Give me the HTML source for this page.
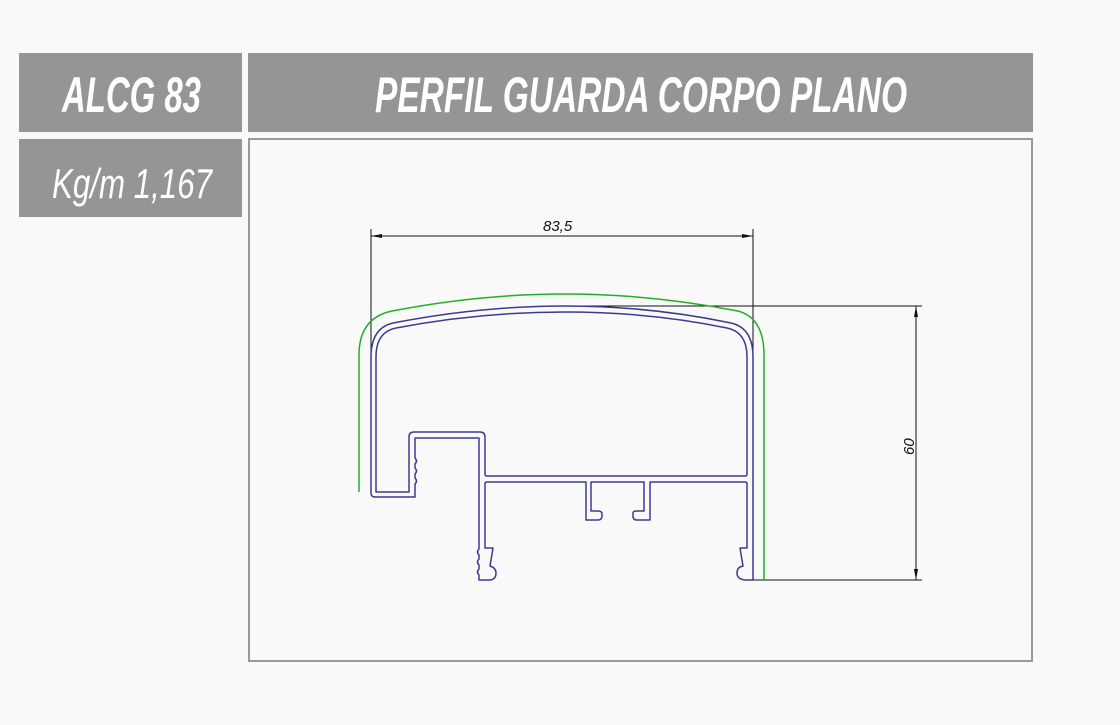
<!DOCTYPE html>
<html><head><meta charset="utf-8"><style>
html,body{margin:0;padding:0;background:#f9f9f9;width:1120px;height:725px;overflow:hidden}
svg{display:block}
</style></head><body>
<svg width="1120" height="725" viewBox="0 0 1120 725" xmlns="http://www.w3.org/2000/svg">
<rect x="0" y="0" width="1120" height="725" fill="#f9f9f9"/>
<rect x="19" y="53" width="223" height="79" fill="#959595"/>
<rect x="248" y="53" width="785" height="79" fill="#959595"/>
<rect x="19" y="139" width="223" height="78" fill="#959595"/>
<rect x="249" y="139" width="783" height="522" fill="none" stroke="#999" stroke-width="2"/>
<text x="62" y="112" font-family="Liberation Sans, sans-serif" font-weight="bold" font-style="italic" font-size="50" fill="#fff" textLength="139" lengthAdjust="spacingAndGlyphs">ALCG 83</text>
<text x="375" y="112" font-family="Liberation Sans, sans-serif" font-weight="bold" font-style="italic" font-size="50" fill="#fff" textLength="532" lengthAdjust="spacingAndGlyphs">PERFIL GUARDA CORPO PLANO</text>
<text x="52" y="198" font-family="Liberation Sans, sans-serif" font-style="italic" font-size="42" fill="#fff" textLength="160" lengthAdjust="spacingAndGlyphs">Kg/m 1,167</text>

<!-- dimensions -->
<g stroke="#111" stroke-width="1" fill="none">
<line x1="371" y1="229" x2="371" y2="357"/>
<line x1="753" y1="229" x2="753" y2="357"/>
<line x1="371" y1="236" x2="753" y2="236"/>
<line x1="565" y1="306" x2="922" y2="306"/>
<line x1="753" y1="580" x2="922" y2="580"/>
<line x1="916" y1="306" x2="916" y2="580"/>
</g>
<g fill="#111">
<polygon points="371,236 382,234 382,238"/>
<polygon points="753,236 742,234 742,238"/>
<polygon points="916,306 914,317 918,317"/>
<polygon points="916,580 914,569 918,569"/>
</g>
<text x="543" y="231" font-family="Liberation Sans, sans-serif" font-style="italic" font-size="15" fill="#111">83,5</text>
<text x="0" y="0" transform="translate(914,455) rotate(-90)" font-family="Liberation Sans, sans-serif" font-style="italic" font-size="15" fill="#111">60</text>

<!-- green cover -->
<path d="M359,492 L359,355 Q359,318 392,311 Q480,294 565,294 Q650,294 738,311 Q764,318 764,355 L764,580" fill="none" stroke="#22b022" stroke-width="1.5"/>

<!-- profile -->
<g fill="none" stroke="#3d3a92" stroke-width="1.5" stroke-linejoin="round">
<!-- inner chamber -->
<path d="M376,357 Q376,332 396,328 Q480,312 565,312 Q650,312 727,328 Q747,332 747,357 L747,474 Q747,476 745,476 L487,476 Q485,476 485,474 L485,437 Q485,432 480,432 L414,432 Q409,432 409,437 L409,492 L376,492 Z"/>
<!-- outer contour -->
<path d="M371,357 Q371,328 393,323 Q480,306 565,306 Q650,306 731,323 Q753,328 753,357 L753,580 L745,580 Q737,579 737,573 Q737,567 743,566 L740,548 L747,548 L747,484 Q747,482 745,482 L650,482 L650,520 L637,520 Q633,520 633,516 L633,513 Q633,511 637,511 L644,511 L644,482 L591,482 L591,511 L598,511 Q602,511 602,514 L602,516 Q602,520 598,520 L586,520 L586,482 L487,482 Q485,482 485,484 L485,548 L493,548 L490,566 Q496,568 496,573 Q496,580 489,580 L479,580 L479,575 Q476,572 479,569 L479,565 Q476,562 479,559 L479,555 Q476,552 479,549 L479,438 L415,438 L415,458 Q418,461 415,464 L415,468 Q418,471 415,474 L415,478 Q418,481 415,484 L415,497 L375,497 Q371,497 371,493 Z"/>
</g>
</svg>
</body></html>
